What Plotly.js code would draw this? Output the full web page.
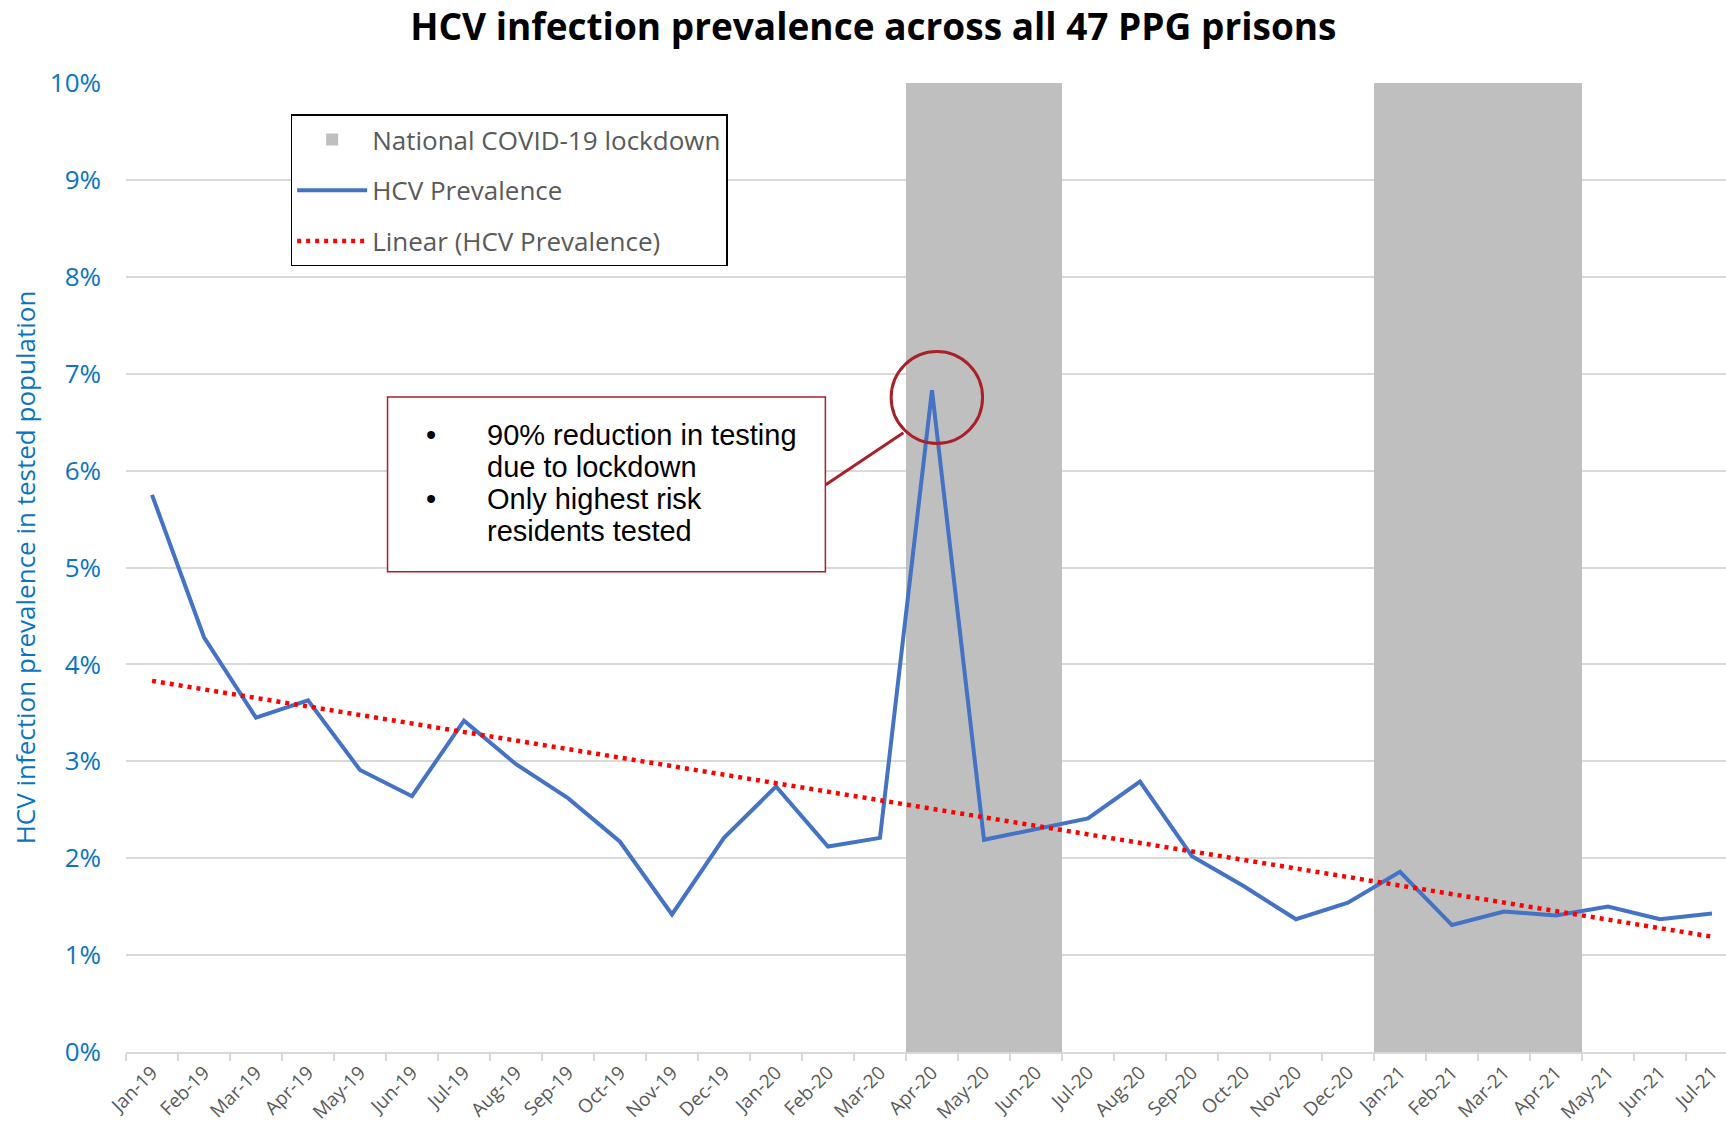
<!DOCTYPE html>
<html>
<head>
<meta charset="utf-8">
<script src="https://cdn.plot.ly/plotly-3.0.1.min.js"></script>
<style>
  html, body { margin: 0; padding: 0; background: #ffffff; }
  #chart { width: 1726px; height: 1131px; }
</style>
</head>
<body>
<div id="chart"></div>
<script>
// ---- Data ----
const months = ['Jan-19','Feb-19','Mar-19','Apr-19','May-19','Jun-19','Jul-19','Aug-19','Sep-19','Oct-19','Nov-19','Dec-19',
                'Jan-20','Feb-20','Mar-20','Apr-20','May-20','Jun-20','Jul-20','Aug-20','Sep-20','Oct-20','Nov-20','Dec-20',
                'Jan-21','Feb-21','Mar-21','Apr-21','May-21','Jun-21','Jul-21'];
const hcvPrevalence = [5.75, 4.28, 3.45, 3.63, 2.91, 2.64, 3.42, 2.97, 2.62, 2.17, 1.42, 2.21,
                       2.74, 2.12, 2.21, 6.83, 2.19, 2.30, 2.41, 2.79, 2.02, 1.71, 1.37, 1.54,
                       1.86, 1.31, 1.45, 1.41, 1.50, 1.37, 1.43];
const lockdownMonths = ['Apr-20','May-20','Jun-20','Jan-21','Feb-21','Mar-21','Apr-21'];
const lockdownHeight = [10, 10, 10, 10, 10, 10, 10];
const trendMonths = ['Jan-19','Jul-21'];
const trendValues = [3.83, 1.19];
const yTickValues = [0, 1, 2, 3, 4, 5, 6, 7, 8, 9, 10];
const yTickLabels = ['0%','1%','2%','3%','4%','5%','6%','7%','8%','9%','10%'];

const calibriLike = 'Open Sans, Noto Sans, sans-serif';
const annotRed = '#a8202a';

const traces = [
  {
    type: 'bar', name: 'National COVID-19 lockdown', legendgroup: 'g1',
    x: lockdownMonths, y: lockdownHeight, width: 1,
    marker: { color: '#bfbfbf', line: { width: 0 } },
    hoverinfo: 'skip'
  },
  {
    type: 'scatter', mode: 'lines', name: 'HCV Prevalence', legendgroup: 'g2',
    x: months, y: hcvPrevalence,
    line: { color: '#4472c4', width: 4 }
  },
  {
    type: 'scatter', mode: 'lines', name: 'Linear (HCV Prevalence)', legendgroup: 'g3',
    x: trendMonths, y: trendValues,
    line: { color: '#ff0000', width: 4.5, dash: '4px,5px' }
  }
];

const bodyFont = { family: 'Arial, Liberation Sans, sans-serif', size: 29, color: '#000000' };
function textLine(txt, yPaper) {
  return { xref: 'paper', yref: 'paper', x: 0.2245, y: yPaper, xanchor: 'left', yanchor: 'middle',
           text: txt, showarrow: false, font: bodyFont };
}
function bullet(yPaper) {
  return { xref: 'paper', yref: 'paper', x: 0.1906, y: yPaper, xanchor: 'center', yanchor: 'middle',
           text: '•', showarrow: false, font: bodyFont };
}

const layout = {
  width: 1726, height: 1131,
  paper_bgcolor: '#ffffff', plot_bgcolor: '#ffffff',
  margin: { l: 126, r: 0, t: 83, b: 79 },
  font: { family: calibriLike, color: '#595959' },
  title: {
    text: '<b>HCV infection prevalence across all 47 PPG prisons</b>',
    font: { family: calibriLike, size: 37, color: '#000000' },
    x: 0.506, xanchor: 'center', y: 0.976, yanchor: 'middle', yref: 'container'
  },
  bargap: 0,
  showlegend: true,
  legend: {
    x: 0.1029, y: 0.9675, xanchor: 'left', yanchor: 'top',
    bgcolor: '#ffffff', bordercolor: '#000000', borderwidth: 1.5,
    font: { family: calibriLike, size: 26, color: '#595959' },
    traceorder: 'grouped', tracegroupgap: 14, itemwidth: 70
  },
  xaxis: {
    type: 'category', categoryorder: 'array', categoryarray: months,
    range: [-0.5, 30.27],
    showgrid: false, zeroline: false,
    showline: true, linecolor: '#d9d9d9', linewidth: 2,
    ticks: 'outside', tickson: 'boundaries', ticklen: 7, tickcolor: '#d9d9d9', tickwidth: 1.5,
    tickangle: -45,
    tickfont: { family: calibriLike, size: 19, color: '#595959' },
    fixedrange: true
  },
  yaxis: {
    range: [0, 10], tickmode: 'array', tickvals: yTickValues, ticktext: yTickLabels,
    showgrid: true, gridcolor: '#d9d9d9', gridwidth: 2,
    zeroline: false, showline: false, ticks: '',
    ticklabelstandoff: 24,
    tickfont: { family: calibriLike, size: 26, color: '#0a74c2' },
    title: {
      text: 'HCV infection prevalence in tested population',
      font: { family: calibriLike, size: 26, color: '#0a74c2' },
      standoff: 6
    },
    fixedrange: true
  },
  shapes: [
    { type: 'rect', xref: 'x', yref: 'y', x0: 4.53, x1: 12.95, y0: 4.955, y1: 6.76,
      line: { color: annotRed, width: 1.5 }, fillcolor: '#ffffff', layer: 'above' },
    { type: 'circle', xref: 'x', yref: 'y', x0: 14.215, x1: 15.973, y0: 6.28, y1: 7.229,
      line: { color: annotRed, width: 3 }, layer: 'above' },
    { type: 'line', xref: 'x', yref: 'y', x0: 12.956, y0: 5.855, x1: 14.45, y1: 6.39,
      line: { color: annotRed, width: 3 }, layer: 'above' }
  ],
  annotations: [
    bullet(0.6369), textLine('90% reduction in testing', 0.6369),
    textLine('due to lockdown', 0.6040),
    bullet(0.5710), textLine('Only highest risk', 0.5710),
    textLine('residents tested', 0.5381)
  ]
};

Plotly.newPlot('chart', traces, layout, { displayModeBar: false, staticPlot: true });
</script>
</body>
</html>
